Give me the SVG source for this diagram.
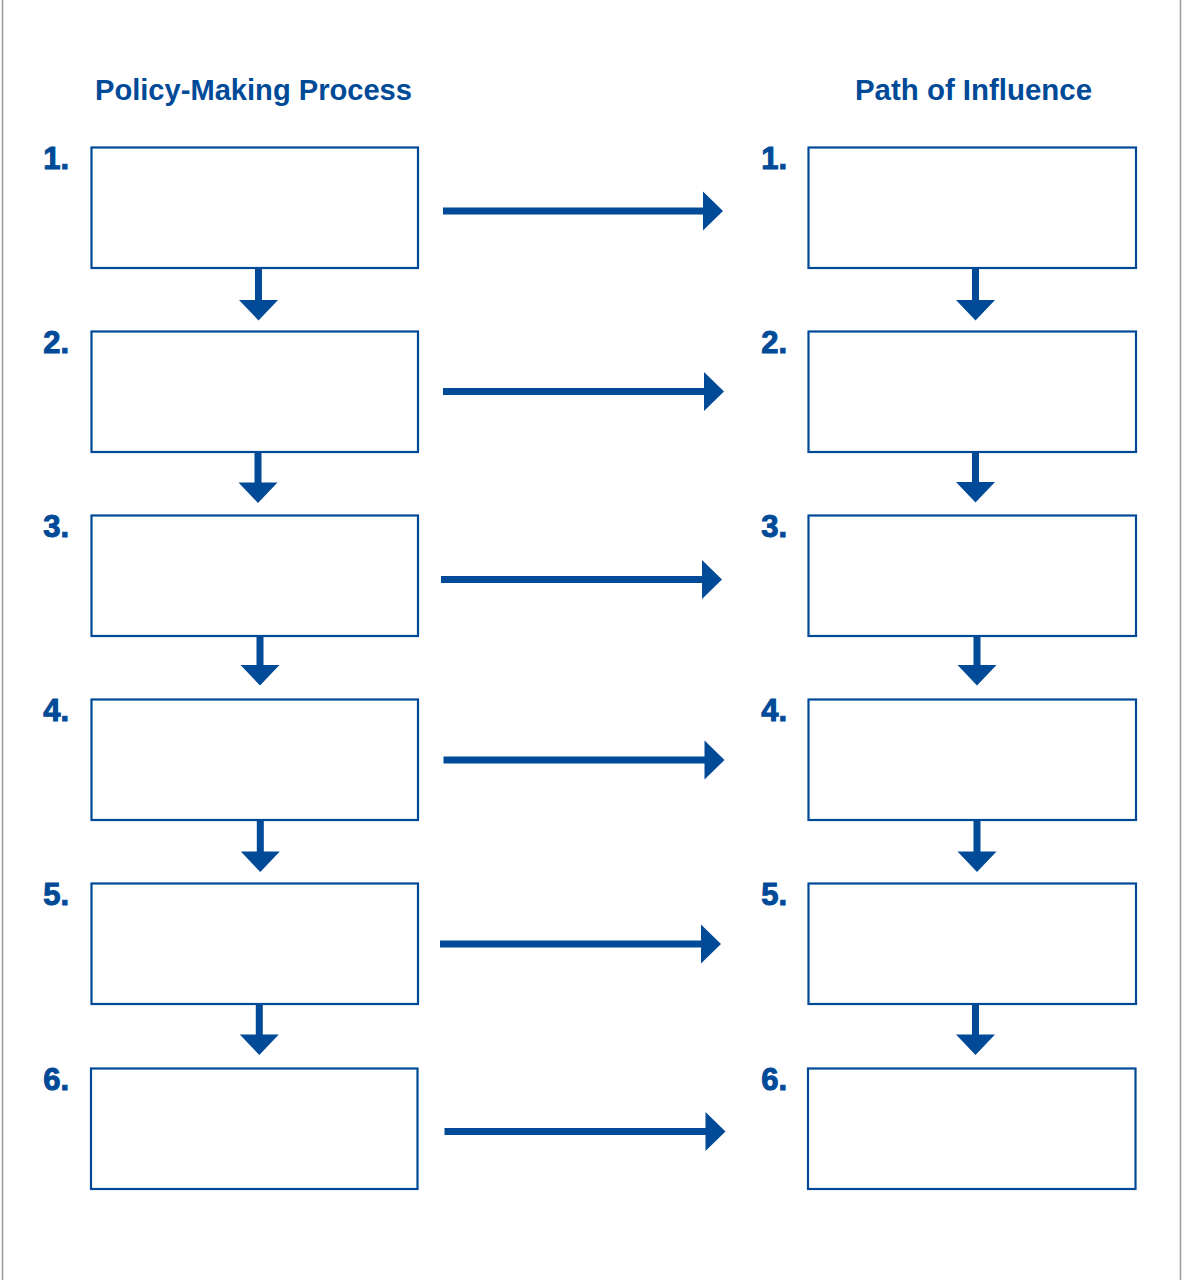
<svg xmlns="http://www.w3.org/2000/svg" width="1184" height="1280" viewBox="0 0 1184 1280">
<style>
.box{fill:#ffffff;stroke:#004a98;stroke-width:2.2}
.arrow{fill:#004a98;stroke:none}
.title{font-family:"Liberation Sans",Arial,sans-serif;font-weight:bold;font-size:29px;fill:#004a98}
.num{font-family:"Liberation Sans",Arial,sans-serif;font-weight:bold;font-size:31px;fill:#004a98;text-anchor:end;stroke:#004a98;stroke-width:1}
.edge{stroke:#a39e9a;stroke-width:1.6;fill:none}
</style>
<rect x="0" y="0" width="1184" height="1280" fill="#ffffff"/>
<line class="edge" x1="2.5" y1="0" x2="2.5" y2="1280"/>
<line class="edge" x1="1180.5" y1="0" x2="1180.5" y2="1280"/>
<text class="title" x="95" y="100" textLength="317" lengthAdjust="spacingAndGlyphs">Policy-Making Process</text>
<text class="title" x="855" y="100" textLength="237" lengthAdjust="spacingAndGlyphs">Path of Influence</text>

<g id="left-1"><rect class="box" x="91.5" y="147.5" width="326.5" height="120.5"/><text class="num" x="69" y="169">1.</text></g>
<g id="left-2"><rect class="box" x="91.5" y="331.5" width="326.5" height="120.5"/><text class="num" x="69" y="353">2.</text></g>
<g id="left-3"><rect class="box" x="91.5" y="515.5" width="326.5" height="120.5"/><text class="num" x="69" y="537">3.</text></g>
<g id="left-4"><rect class="box" x="91.5" y="699.5" width="326.5" height="120.5"/><text class="num" x="69" y="721">4.</text></g>
<g id="left-5"><rect class="box" x="91.5" y="883.5" width="326.5" height="120.5"/><text class="num" x="69" y="905">5.</text></g>
<g id="left-6"><rect class="box" x="91" y="1068.5" width="326.5" height="120.5"/><text class="num" x="69" y="1090">6.</text></g>

<g id="right-1"><rect class="box" x="808.5" y="147.5" width="327.5" height="120.5"/><text class="num" x="787" y="169">1.</text></g>
<g id="right-2"><rect class="box" x="808.5" y="331.5" width="327.5" height="120.5"/><text class="num" x="787" y="353">2.</text></g>
<g id="right-3"><rect class="box" x="808.5" y="515.5" width="327.5" height="120.5"/><text class="num" x="787" y="537">3.</text></g>
<g id="right-4"><rect class="box" x="808.5" y="699.5" width="327.5" height="120.5"/><text class="num" x="787" y="721">4.</text></g>
<g id="right-5"><rect class="box" x="808.5" y="883.5" width="327.5" height="120.5"/><text class="num" x="787" y="905">5.</text></g>
<g id="right-6"><rect class="box" x="808" y="1068.5" width="327.5" height="120.5"/><text class="num" x="787" y="1090">6.</text></g>

<g id="connectors">
<path class="arrow" d="M443 207.5 H703 V191.5 L723 211 L703 230.5 V214.5 H443 Z"/>
<path class="arrow" d="M443 388 H704 V372 L724 391.5 L704 411 V395 H443 Z"/>
<path class="arrow" d="M441 576 H702 V560 L722 579.5 L702 599 V583 H441 Z"/>
<path class="arrow" d="M443.5 756.5 H704.5 V740.5 L724.5 760 L704.5 779.5 V763.5 H443.5 Z"/>
<path class="arrow" d="M440 940.5 H701 V924.5 L721 944 L701 963.5 V947.5 H440 Z"/>
<path class="arrow" d="M444.5 1128 H705.5 V1112 L725.5 1131.5 L705.5 1151 V1135 H444.5 Z"/>
<path class="arrow" d="M255 268 V300 H239 L258.5 320.5 L278 300 H262 V268 Z"/>
<path class="arrow" d="M254.5 452 V482.5 H238.5 L258 503 L277.5 482.5 H261.5 V452 Z"/>
<path class="arrow" d="M256.5 636 V665 H240.5 L260 685.5 L279.5 665 H263.5 V636 Z"/>
<path class="arrow" d="M256.8 820 V851.5 H240.8 L260.3 872 L279.8 851.5 H263.8 V820 Z"/>
<path class="arrow" d="M255.8 1004 V1034.5 H239.8 L259.3 1055 L278.8 1034.5 H262.8 V1004 Z"/>
<path class="arrow" d="M972 268 V300 H956 L975.5 320.5 L995 300 H979 V268 Z"/>
<path class="arrow" d="M972 452 V482 H956 L975.5 502.5 L995 482 H979 V452 Z"/>
<path class="arrow" d="M973.5 636 V665 H957.5 L977 685.5 L996.5 665 H980.5 V636 Z"/>
<path class="arrow" d="M973.5 820 V851.5 H957.5 L977 872 L996.5 851.5 H980.5 V820 Z"/>
<path class="arrow" d="M972 1004 V1034.5 H956 L975.5 1055 L995 1034.5 H979 V1004 Z"/>
</g>
</svg>
